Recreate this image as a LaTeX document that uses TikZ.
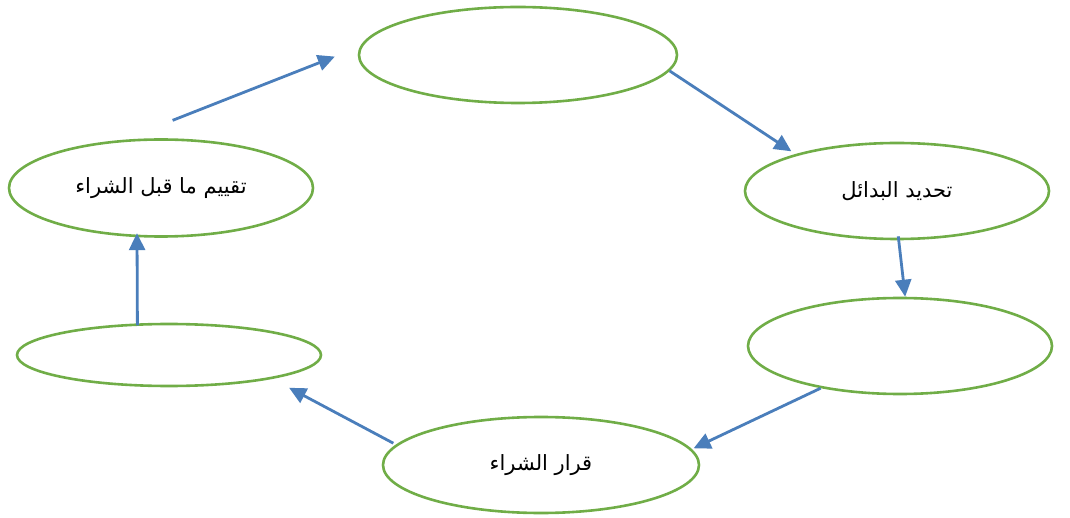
\documentclass[tikz,border=0pt]{standalone}
\usepackage{fontspec}
\newfontfamily\arabicfont[Script=Arabic]{DejaVu Sans}
\TeXXeTstate=1
\usepackage{tikz}
\usetikzlibrary{shapes.geometric, arrows.meta}
\definecolor{stagegreen}{HTML}{70AD47}
\definecolor{arrowblue}{HTML}{4A7EBB}
\tikzstyle{stage} = [ellipse, draw=stagegreen, line width=2.6pt, inner sep=0pt,
    minimum width=304pt, minimum height=96pt, font=\arabicfont\fontsize{21}{24}\selectfont]
\tikzstyle{line} = [draw=arrowblue, line width=2.8pt, -{Triangle[length=17pt,width=16pt]}]
\begin{document}
\begin{tikzpicture}[x=1pt, y=-1pt]
      \useasboundingbox (0,0) rectangle (1070,518);
      % Stages
      \node [stage, minimum width=318pt] (need) at (518,55) {};
      \node [stage] (alternatives) at (897,191) {\beginR تحديد البدائل\endR};
      \node [stage] (compare) at (900,346) {};
      \node [stage, minimum width=316pt] (decision) at (541,465) {\beginR قرار الشراء\endR};
      \node [stage, minimum height=62pt] (use) at (169,355) {};
      \node [stage, minimum height=97pt] (pre-evaluation) at (161,188) {\beginR تقييم ما قبل الشراء\endR};
      % Draw edges
      \path [line, shorten <=53pt, shorten >=27pt] (pre-evaluation.128) -- (need.177);
      \path [line, shorten >=5pt] (need.-6) -- (alternatives.160);
      \path [line, shorten <=-4pt] (alternatives.-88) -- (compare.84);
      \path [line, shorten >=2pt] (compare.-152) -- (decision.6);
      \path [line, shorten <=3pt, shorten >=19pt] (decision.172) -- (use.-13);
      \path [line, shorten <=-2pt, shorten >=-4pt] (use.135) -- (pre-evaluation.-116);
  \end{tikzpicture}
\end{document}
